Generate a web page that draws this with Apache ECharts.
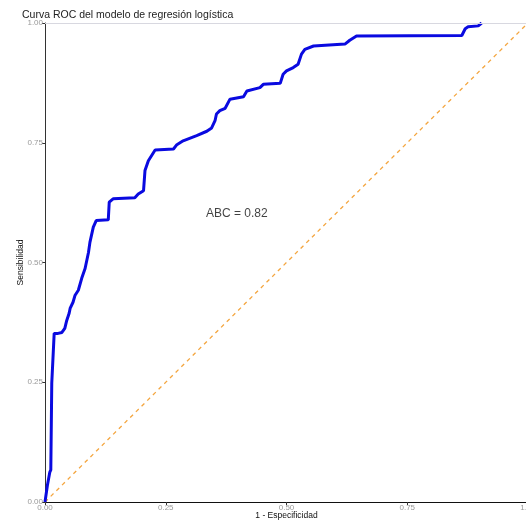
<!DOCTYPE html>
<html>
<head>
<meta charset="utf-8">
<script src="https://cdn.jsdelivr.net/npm/echarts@6/dist/echarts.min.js"></script>
<style>html,body{margin:0;padding:0;background:#fff}#c{width:526px;height:522px}</style>
</head>
<body>
<div id="c"></div>
<script>
const titleText = 'Curva ROC del modelo de regresión logística';
const xName = '1 - Especificidad';
const yName = 'Sensibilidad';
const aucLabel = 'ABC = 0.82';
const aucPos = [0.397, 0.602];
const tickValues = [0, 0.25, 0.5, 0.75, 1];
// 1 - specificity (FPR)
const fpr = [0,0.002,0.005,0.010,0.012,0.014,0.019,0.027,0.035,0.041,0.045,0.050,0.052,0.058,0.062,0.069,0.076,0.083,0.090,0.093,0.100,0.106,0.131,0.133,0.141,0.186,0.193,0.204,0.207,0.214,0.228,0.266,0.273,0.286,0.314,0.335,0.345,0.352,0.355,0.362,0.373,0.383,0.387,0.411,0.418,0.445,0.452,0.487,0.493,0.500,0.514,0.524,0.531,0.538,0.556,0.621,0.631,0.645,0.863,0.870,0.876,0.897,0.904];
// sensitivity (TPR)
const tpr = [0,0.004,0.035,0.0625,0.067,0.248,0.352,0.352,0.354,0.3625,0.379,0.394,0.404,0.417,0.431,0.442,0.467,0.4875,0.521,0.542,0.574,0.5875,0.589,0.626,0.633,0.635,0.643,0.65,0.692,0.7125,0.735,0.737,0.746,0.754,0.765,0.774,0.781,0.796,0.810,0.817,0.822,0.841,0.844,0.846,0.858,0.865,0.872,0.874,0.893,0.900,0.907,0.914,0.935,0.945,0.952,0.956,0.964,0.973,0.974,0.988,0.992,0.994,1.0];
const diagX = [0, 1];
const diagY = [0, 1];

const rocData = fpr.map((x, i) => [x, tpr[i]]);
const diagData = diagX.map((x, i) => [x, diagY[i]]);

const chart = echarts.init(document.getElementById('c'), null, {renderer: 'canvas'});
const fontFamily = '"Liberation Sans", Arial, sans-serif';
chart.setOption({
  animation: false,
  backgroundColor: '#fff',
  textStyle: {fontFamily: fontFamily},
  title: {
    text: titleText, left: 17, top: 5,
    textStyle: {fontSize: 10.5, fontWeight: 'normal', color: '#222', fontFamily: fontFamily}
  },
  grid: {left: 45, right: -2, top: 23, bottom: 20, containLabel: false, outerBoundsMode: 'none'},
  xAxis: {
    type: 'value', min: 0, max: 1, interval: 0.25,
    name: xName, nameLocation: 'middle', nameGap: 9, nameMoveOverlap: false,
    nameTextStyle: {fontSize: 8.5, color: '#111', fontFamily: fontFamily},
    axisLine: {show: true, lineStyle: {color: '#111', width: 1.2}},
    axisTick: {show: true, length: 3, lineStyle: {color: '#333'}},
    axisLabel: {fontSize: 8, color: '#999', margin: 2, formatter: v => v.toFixed(2)},
    splitLine: {show: false}
  },
  yAxis: {
    type: 'value', min: 0, max: 1, interval: 0.25,
    name: yName, nameLocation: 'middle', nameGap: 20, nameMoveOverlap: false,
    nameTextStyle: {fontSize: 8.5, color: '#111', fontFamily: fontFamily},
    axisLine: {show: true, lineStyle: {color: '#333', width: 1}},
    axisTick: {show: true, length: 3, lineStyle: {color: '#333'}},
    axisLabel: {fontSize: 8, color: '#999', margin: 2, formatter: v => v.toFixed(2)},
    splitLine: {show: false}
  },
  series: [
    {
      type: 'line', data: diagData, symbol: 'none', silent: true,
      lineStyle: {color: '#f4a640', width: 1.3, type: [4, 4]},
      z: 1,
      markLine: {
        silent: true, symbol: 'none', label: {show: false},
        lineStyle: {color: '#d8d8e0', width: 1, type: 'solid'},
        data: [{yAxis: 1}]
      }
    },
    {
      type: 'line', data: rocData, symbol: 'none', silent: true,
      lineStyle: {color: '#0a0ae0', width: 3}, z: 3
    },
    {
      type: 'scatter', data: [aucPos], symbolSize: 0, silent: true,
      label: {show: true, position: 'inside', formatter: aucLabel,
        fontSize: 12, color: '#111', fontFamily: fontFamily}
    }
  ]
});
</script>
</body>
</html>
